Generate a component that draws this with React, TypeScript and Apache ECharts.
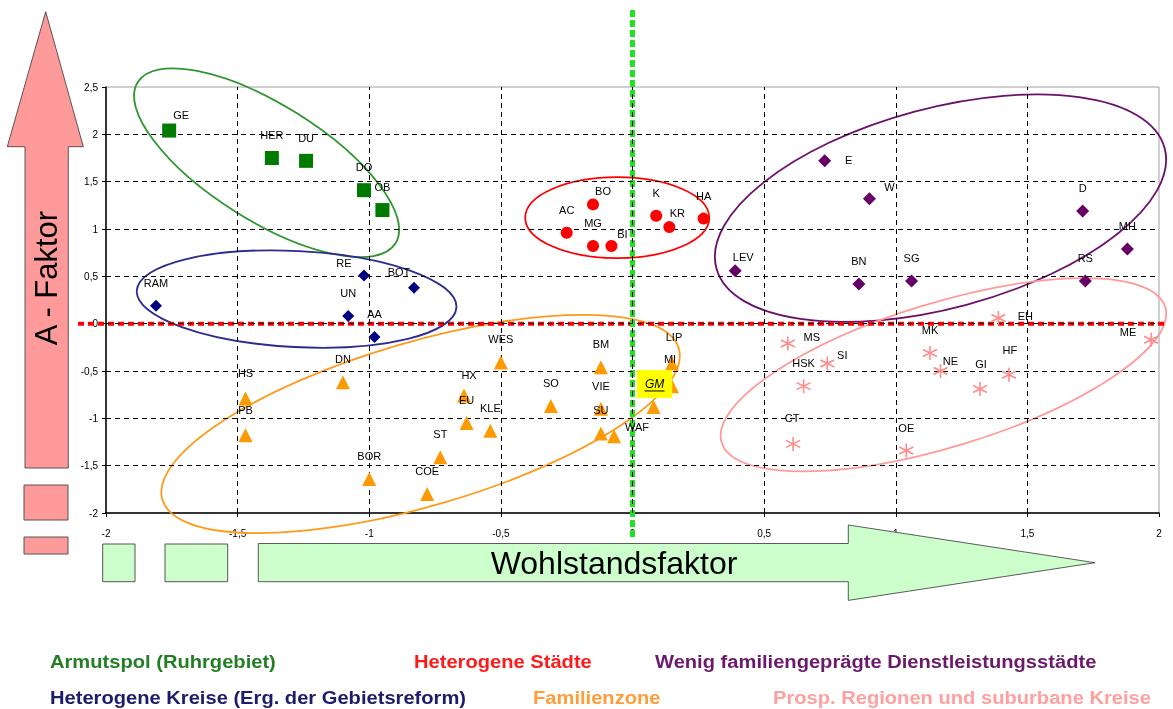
import React, { useEffect, useRef } from "react";
import * as echarts from "echarts";

// ---- Data ----
const armutNames = ["GE", "HER", "DU", "DO", "OB"];
const armutX = [-1.76, -1.37, -1.24, -1.02, -0.95];
const armutY = [2.04, 1.75, 1.72, 1.41, 1.2];

const kreiseNames = ["RAM", "RE", "UN", "AA", "BOT"];
const kreiseX = [-1.81, -1.02, -1.08, -0.98, -0.83];
const kreiseY = [0.19, 0.51, 0.08, -0.14, 0.38];

const staedteNames = ["AC", "BO", "MG", "BI", "K", "KR", "HA"];
const staedteX = [-0.25, -0.15, -0.15, -0.08, 0.09, 0.14, 0.27];
const staedteY = [0.96, 1.26, 0.82, 0.82, 1.14, 1.02, 1.11];

const dienstNames = ["LEV", "E", "W", "BN", "SG", "D", "MH", "RS"];
const dienstX = [0.39, 0.73, 0.9, 0.86, 1.06, 1.71, 1.88, 1.72];
const dienstY = [0.56, 1.72, 1.32, 0.42, 0.45, 1.19, 0.79, 0.45];

const familieNames = ["HS", "PB", "DN", "BOR", "COE", "ST", "HX", "EU", "KLE", "WES", "SO", "BM", "VIE", "SU", "WAF", "GM", "MI", "LIP"];
const familieX = [-1.47, -1.47, -1.1, -1.0, -0.78, -0.73, -0.64, -0.63, -0.54, -0.5, -0.31, -0.12, -0.12, -0.12, -0.07, 0.08, 0.15, 0.15];
const familieY = [-0.79, -1.18, -0.62, -1.64, -1.8, -1.41, -0.76, -1.05, -1.13, -0.41, -0.87, -0.46, -0.9, -1.16, -1.19, -0.88, -0.66, -0.42];

const prospNames = ["EH", "MS", "SI", "HSK", "MK", "NE", "GI", "HF", "CT", "OE", "ME"];
const prospX = [1.39, 0.59, 0.74, 0.65, 1.13, 1.17, 1.32, 1.43, 0.61, 1.04, 1.97];
const prospY = [0.06, -0.21, -0.42, -0.66, -0.31, -0.5, -0.69, -0.54, -1.27, -1.34, -0.17];

// cluster ellipse centres (data units)
const ellipseCX = [-1.39, -1.276, -0.058, 1.17, 1.181, -0.805];
const ellipseCY = [1.7, 0.26, 1.12, 1.22, -0.54, -1.06];

const groupLabels = [
  "Armutspol (Ruhrgebiet)",
  "Heterogene Städte",
  "Wenig familiengeprägte Dienstleistungsstädte",
  "Heterogene Kreise (Erg. der Gebietsreform)",
  "Familienzone",
  "Prosp. Regionen und suburbane Kreise",
];

const X_GRID = [-1.5, -1, -0.5, 0, 0.5, 1, 1.5];
const Y_GRID = [-1.5, -1, -0.5, 0, 0.5, 1, 1.5, 2];

// ---- Styles / layout ----
const ELLIPSE_STYLE = [
  { rx: 152, ry: 58, rot: -32, color: "#2f962f" },
  { rx: 160, ry: 48, rot: -3, color: "#2a2a8f" },
  { rx: 92, ry: 40.5, rot: 0, color: "#ff0000" },
  { rx: 232, ry: 100, rot: 15, color: "#6b0f6b" },
  { rx: 232, ry: 72, rot: 17, color: "#ff9a9a" },
  { rx: 269, ry: 82, rot: 16.3, color: "#ff9a1a" },
];

const DEFAULT_OFFSET = [0, -23];
const LABEL_OFFSETS: Record<string, number[]> = {
  GE: [12, -16], RE: [-20, -12], BOT: [-15, -16], BO: [10, -13], BI: [11, -12],
  KR: [8, -14], LEV: [8, -14], E: [24, -1], W: [20, -12], EH: [27, -2], MS: [24, -7],
  SI: [15, -8], NE: [10, -10], ME: [-23, -8], HX: [5, -21], WAF: [23, -9], MI: [-2, -27],
  LIP: [2, -26], GM: [1, -23], HS: [0, -25], PB: [0, -25], CT: [-1, -26], GI: [1, -25], HF: [1, -25],
};

const FONT = "Liberation Sans, Arial, sans-serif";

const GRID = { left: 106, right: 14, top: 87, bottom: 196 };

function makeData(names: string[], xs: number[], ys: number[]) {
  return names.map((n, i) => {
    const item: any = {
      name: n,
      value: [xs[i], ys[i]],
      label: { offset: LABEL_OFFSETS[n] || DEFAULT_OFFSET },
    };
    if (n === "GM") {
      item.label = {
        offset: LABEL_OFFSETS[n],
        backgroundColor: "#ffff00",
        padding: [8, 8, 8, 8],
        fontStyle: "italic",
        fontSize: 12,
        color: "#000",
      };
    }
    return item;
  });
}

const labelBase = {
  show: true,
  formatter: "{b}",
  position: "inside",
  fontSize: 11,
  color: "#000",
  fontFamily: FONT,
};

function scatter(name: string, data: any[], symbol: string, size: number, itemStyle: any) {
  return {
    type: "scatter",
    name,
    data,
    symbol,
    symbolSize: size,
    itemStyle: { opacity: 1, ...itemStyle },
    label: labelBase,
    z: 5,
    emphasis: { disabled: true },
  };
}

const ASTERISK = "path://M0,-10L0,10M-8.66,-5L8.66,5M-8.66,5L8.66,-5";

const fmt = (v: number) => String(v).replace(".", ",");

export default function App() {
  const ref = useRef<HTMLDivElement>(null);
  useEffect(() => {
    const chart = echarts.init(ref.current!, null, { renderer: "svg" });
    const option: any = {
      animation: false,
      grid: { ...GRID, show: true, borderColor: "#a0a0a0", borderWidth: 1 },
      xAxis: {
        type: "value",
        min: -2,
        max: 2,
        interval: 0.5,
        axisLine: { onZero: false, lineStyle: { color: "#000", width: 1.5 } },
        axisTick: { show: true, length: 4, lineStyle: { color: "#000" } },
        axisLabel: { formatter: fmt, fontSize: 10, color: "#000", margin: 15, fontFamily: FONT },
        splitLine: { show: false },
      },
      yAxis: {
        type: "value",
        min: -2,
        max: 2.5,
        interval: 0.5,
        axisLine: { onZero: false, lineStyle: { color: "#000", width: 1.5 } },
        axisTick: { show: true, length: 4, lineStyle: { color: "#000" } },
        axisLabel: { formatter: fmt, fontSize: 10, color: "#000", margin: 8, fontFamily: FONT },
        splitLine: { show: false },
      },
      series: [
        {
          type: "custom",
          name: "cluster",
          clip: false,
          z: 3,
          data: ellipseCX.map((x, i) => [x, ellipseCY[i]]),
          encode: { x: 0, y: 1 },
          renderItem: (params: any, api: any) => {
            const p = api.coord([api.value(0), api.value(1)]);
            const e = ELLIPSE_STYLE[params.dataIndex];
            return {
              type: "ellipse",
              x: p[0],
              y: p[1],
              rotation: (e.rot * Math.PI) / 180,
              shape: { cx: 0, cy: 0, rx: e.rx, ry: e.ry },
              style: { fill: "none", stroke: e.color, lineWidth: 1.8 },
            };
          },
          markLine: {
            silent: true,
            symbol: ["none", "none"],
            label: { show: false },
            lineStyle: { color: "#000", type: [5, 4], width: 1 },
            emphasis: { disabled: true },
            data: [...X_GRID.map((v) => ({ xAxis: v })), ...Y_GRID.map((v) => ({ yAxis: v }))],
          },
        },
        scatter(groupLabels[0], makeData(armutNames, armutX, armutY), "rect", 14, { color: "#007a00" }),
        scatter(groupLabels[3], makeData(kreiseNames, kreiseX, kreiseY), "diamond", 12, { color: "#000080" }),
        scatter(groupLabels[1], makeData(staedteNames, staedteX, staedteY), "circle", 12, { color: "#ff0000" }),
        scatter(groupLabels[2], makeData(dienstNames, dienstX, dienstY), "diamond", 13, { color: "#660066" }),
        scatter(groupLabels[4], makeData(familieNames, familieX, familieY), "triangle", 14, { color: "#ff9900" }),
        scatter(groupLabels[5], makeData(prospNames, prospX, prospY), ASTERISK, 14, {
          color: "rgba(0,0,0,0)",
          borderColor: "#ff8c8c",
          borderWidth: 1.6,
        }),
      ],
    };
    chart.setOption(option);

    const origin = chart.convertToPixel({ gridIndex: 0 }, [0, 0]) as number[];
    const gmIdx = familieNames.indexOf("GM");
    const gm = chart.convertToPixel({ gridIndex: 0 }, [familieX[gmIdx], familieY[gmIdx]]) as number[];
    const gmOff = LABEL_OFFSETS.GM;

    const pinkFill = "#ff9a9a";
    const greenFill = "#ccffcc";
    const outline = { stroke: "#333", lineWidth: 0.8 };

    const legendRows = [
      { text: groupLabels[0], x: 50, y: 661, color: "#237f23" },
      { text: groupLabels[1], x: 414, y: 661, color: "#ff1a1a" },
      { text: groupLabels[2], x: 655, y: 661, color: "#6b1a6b" },
      { text: groupLabels[3], x: 50, y: 697, color: "#1c1c6b" },
      { text: groupLabels[4], x: 533, y: 697, color: "#ff9d3a" },
      { text: groupLabels[5], x: 773, y: 697, color: "#ffa0a0" },
    ];

    chart.setOption({
      graphic: [
        // vertical pink arrow
        {
          type: "polygon",
          z: 1,
          shape: {
            points: [
              [45.7, 11.7], [83.3, 146.7], [68.3, 146.7], [68.3, 468], [25, 468], [25, 146.7], [7.3, 146.7],
            ],
          },
          style: { fill: pinkFill, ...outline },
        },
        { type: "rect", z: 1, shape: { x: 24, y: 485, width: 44, height: 35 }, style: { fill: pinkFill, stroke: "#555", lineWidth: 1 } },
        { type: "rect", z: 1, shape: { x: 24, y: 537, width: 44, height: 17 }, style: { fill: pinkFill, stroke: "#555", lineWidth: 1 } },
        {
          type: "text",
          z: 2,
          x: 46,
          y: 278,
          rotation: Math.PI / 2,
          style: { text: "A - Faktor", font: `31px ${FONT}`, fill: "#000", align: "center", verticalAlign: "middle" },
        },
        // horizontal green arrow
        {
          type: "polygon",
          z: 1,
          shape: {
            points: [
              [258.3, 543.5], [848.3, 543.5], [848.3, 525], [1095, 562.7], [848.3, 600.4], [848.3, 581.7], [258.3, 581.7],
            ],
          },
          style: { fill: greenFill, ...outline },
        },
        { type: "rect", z: 1, shape: { x: 102.7, y: 544, width: 32.3, height: 37.7 }, style: { fill: greenFill, stroke: "#555", lineWidth: 1 } },
        { type: "rect", z: 1, shape: { x: 165, y: 544, width: 62.7, height: 37.7 }, style: { fill: greenFill, stroke: "#555", lineWidth: 1 } },
        {
          type: "text",
          z: 2,
          x: 614,
          y: 563,
          style: { text: "Wohlstandsfaktor", font: `32px ${FONT}`, fill: "#000", align: "center", verticalAlign: "middle" },
        },
        // zero lines
        {
          type: "line",
          z: 4,
          shape: { x1: 78, y1: origin[1], x2: 1168, y2: origin[1] },
          style: { stroke: "#ff0000", lineWidth: 4, lineDash: [6, 4] },
        },
        {
          type: "line",
          z: 4,
          shape: { x1: origin[0], y1: 10, x2: origin[0], y2: 540 },
          style: { stroke: "#22e022", lineWidth: 5, lineDash: [7, 3] },
        },
        // GM underline
        {
          type: "line",
          z: 6,
          shape: { x1: gm[0] + gmOff[0] - 10, y1: gm[1] + gmOff[1] + 7, x2: gm[0] + gmOff[0] + 10, y2: gm[1] + gmOff[1] + 7 },
          style: { stroke: "#000", lineWidth: 1 },
        },
        // legend texts
        ...legendRows.map((r) => ({
          type: "text",
          z: 2,
          x: r.x,
          y: r.y,
          scaleX: 1.06,
          style: { text: r.text, font: `bold 19px ${FONT}`, fill: r.color, align: "left", verticalAlign: "middle" },
        })),
      ],
    });

    return () => chart.dispose();
  }, []);
  return <div ref={ref} style={{ position: "fixed", left: 0, top: 0, width: 1173, height: 709 }} />;
}
